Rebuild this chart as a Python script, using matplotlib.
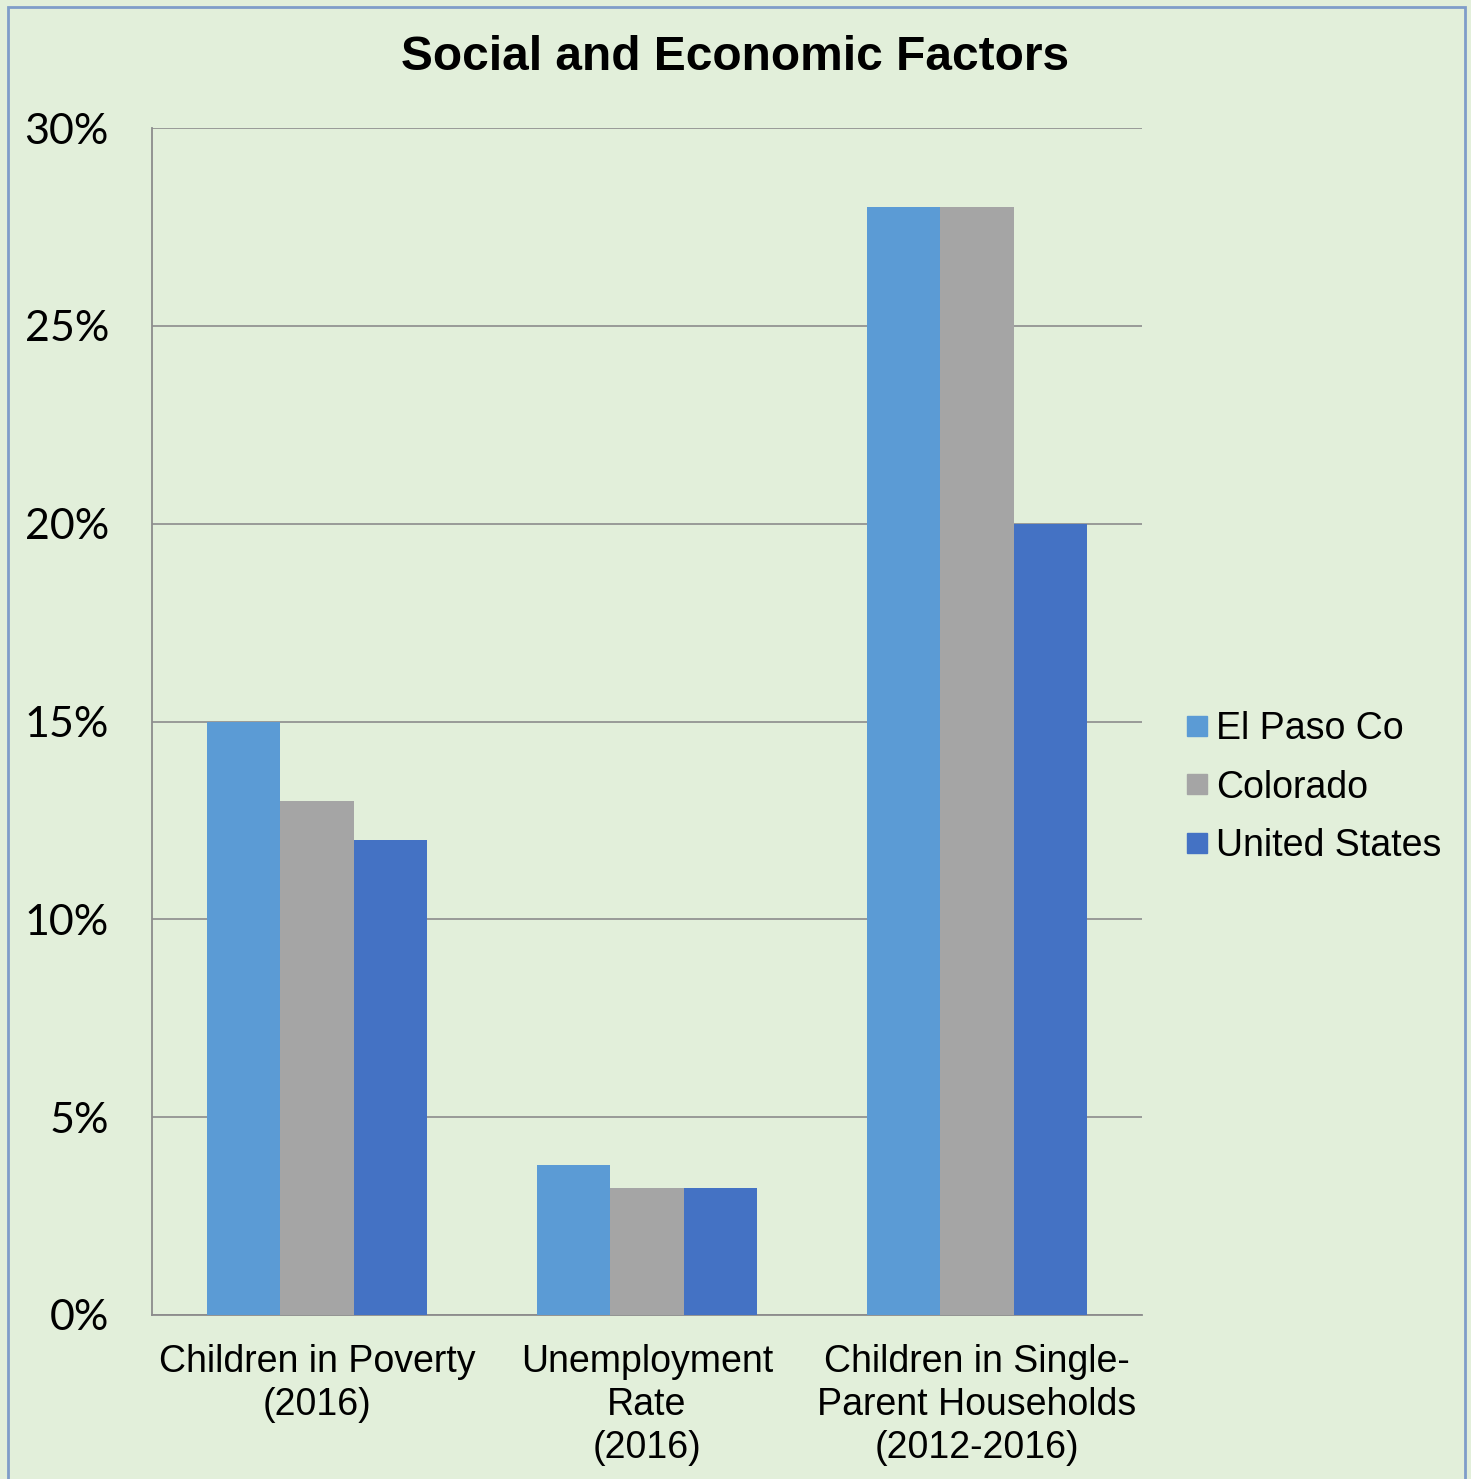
import matplotlib
matplotlib.use("Agg")
import matplotlib.pyplot as plt
import numpy as np
from matplotlib.lines import Line2D
from matplotlib.ticker import FuncFormatter, MultipleLocator

categories = ["Children in Poverty\n(2016)", "Unemployment\nRate\n(2016)",
              "Children in Single-\nParent Households\n(2012-2016)"]
series_names = ["El Paso Co", "Colorado", "United States"]
el_paso = [15.0, 3.8, 28.0]
colorado = [13.0, 3.2, 28.0]
united_states = [12.0, 3.2, 20.0]
colors = ["#5B9BD5", "#A5A5A5", "#4472C4"]

BG = "#E2EFDA"

fig = plt.figure(figsize=(14.71, 14.79), dpi=100, facecolor=BG)
ax = fig.add_axes([0.1033, 0.1109, 0.673, 0.8025])
ax.set_facecolor(BG)

x = np.arange(len(categories))
width = 0.223
for i, (vals, name, col) in enumerate(zip([el_paso, colorado, united_states], series_names, colors)):
    ax.bar(x + (i - 1) * width, vals, width, color=col, label=name, zorder=3)

ax.set_xlim(-0.5, 2.5)
ax.set_ylim(0, 30)
ax.yaxis.set_major_locator(MultipleLocator(5))
ax.yaxis.set_major_formatter(FuncFormatter(lambda v, _: f"{v:.0f}%"))
ax.grid(axis="y", color="#8C8C8C", linewidth=1.2, zorder=0)
ax.set_axisbelow(True)

for side in ["top", "right"]:
    ax.spines[side].set_visible(False)
for side in ["left", "bottom"]:
    ax.spines[side].set_color("#8C8C8C")
    ax.spines[side].set_linewidth(1.3)

ax.tick_params(axis="both", length=0)
ax.tick_params(axis="y", pad=31, labelsize=31)
for lbl in ax.get_yticklabels():
    lbl.set_fontfamily("Lato")
ax.set_xticks(x)
ax.set_xticklabels(categories, fontsize=27, family="Liberation Sans", linespacing=1.24)
ax.tick_params(axis="x", pad=21)

fig.text(0.5, 0.961, "Social and Economic Factors", ha="center", va="center",
         fontsize=34.5, fontweight="bold", family="Liberation Sans")

handles = [Line2D([0], [0], marker="s", linestyle="none", markersize=14,
                  markerfacecolor=c, markeredgecolor=c) for c in colors]
leg = fig.legend(handles, series_names, loc="center left", bbox_to_anchor=(0.778, 0.4675),
                 frameon=False, handletextpad=0.0, labelspacing=0.6, handlelength=1.0,
                 prop={"family": "Liberation Sans", "size": 27})

# outer chart frame
frame = plt.Rectangle((8 / 1471, -0.05), (1465 - 8) / 1471, 1.05 - 7 / 1479,
                      transform=fig.transFigure, fill=False, edgecolor="#7F9DC9",
                      linewidth=2.0, zorder=10)
fig.patches.append(frame)

fig.savefig("out.png", dpi=100, facecolor=BG)
